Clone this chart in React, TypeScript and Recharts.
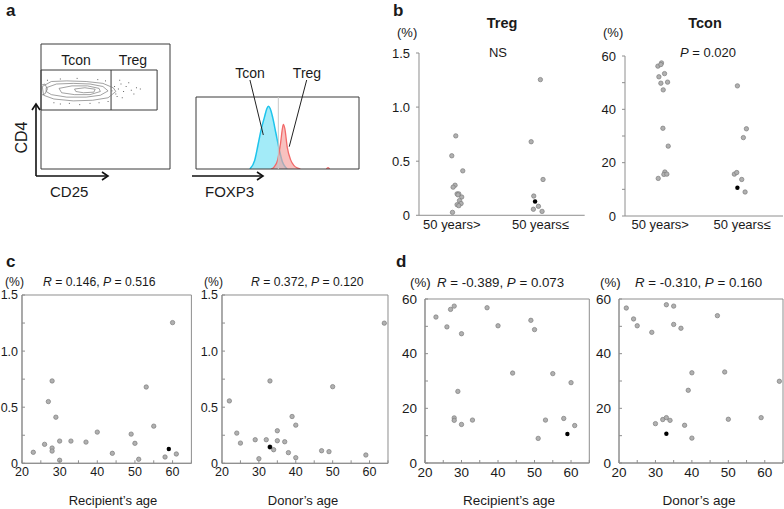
import React from "react";
import {
  ScatterChart,
  Scatter,
  XAxis,
  YAxis,
  ReferenceArea,
  ReferenceLine,
  AreaChart,
  Area,
} from "recharts";

const FONT = '"Liberation Sans", Arial, Helvetica, sans-serif';
const INK = "#1a1a1a";
const AXIS = "#8e8e8e";
const FRAME = "#3a3a3a";

// ---------- panel a ----------
// FOXP3 histograms, intensity 0-100 vs % of box height
const tconHistogram = [
  [33, 0], [36, 12], [38, 33], [40, 55], [42, 72], [43.5, 84], [44.4, 87],
  [45.5, 84], [47, 72], [49, 50], [51, 28], [53, 10], [55, 2], [56, 0],
];
const tregHistogram = [
  [46, 0], [48, 3], [50, 12], [52, 38], [53, 56], [53.6, 62], [54.5, 56],
  [56, 30], [58, 13], [60, 5], [62, 1.5], [64, 0], [70, null], [80, 0], [81, 2], [82, 0],
];
const foxp3Cutoff = 50.5;
// leader lines from the labels to the curves
const tconLeader = [[33.1, 123.6], [41.3, 47.2]];
const tregLeader = [[67.9, 123.6], [57.2, 31]];

// CD25 x CD4 plot, both axes 0-100
const gate = { left: 0, right: 90, bottom: 47.2, top: 79.2, split: 54.3 };
const contourRings = [
  [[1, 66], [8, 70], [20, 70.5], [35, 70], [48, 68.5], [56, 65], [58, 62], [52, 57], [40, 55], [25, 54.5], [10, 56], [2, 59], [1, 66]],
  [[4, 65], [12, 68], [25, 68.5], [38, 68], [48, 66], [52, 62.5], [46, 59], [35, 57.5], [20, 57.5], [8, 59.5], [4, 62], [4, 65]],
  [[14, 64.5], [24, 66.5], [36, 66.5], [45, 64.5], [46, 62], [38, 59.5], [26, 59.5], [16, 61], [14, 64.5]],
  [[26, 64], [34, 65], [42, 63.8], [41, 61.5], [33, 61], [27, 62], [26, 64]],
  [[0, 67], [3, 68], [5, 64], [3, 60], [0, 59]],
];
const eventDots = [
  [57, 66], [60, 64], [62, 68], [64, 62], [66, 66], [70, 63], [72, 60], [58, 60], [61, 71],
  [68, 69], [74, 65], [59, 58], [63, 57], [10, 53], [15, 52], [22, 52.5], [30, 51.5],
  [38, 52.5], [45, 53], [5, 71], [15, 72], [28, 72.5], [44, 71.5], [50, 70.5], [52, 54],
  [55, 62.5], [77, 64],
];

// ---------- panels b-d ----------
const groupLabels = ["50 years>", "50 years≤"];
const recipientAge = [23, 26, 27, 28, 28, 28, 29, 30, 30, 33, 37, 40, 44, 49, 50, 51, 53, 55, 58, 59, 60, 61];
const tregByRecipient = [0.098, 0.169, 0.55, 0.734, 0.136, 0.109, 0.411, 0.198, 0.027, 0.198, 0.189, 0.278, 0.089, 0.26, 0.178, 0.036, 0.68, 0.331, 0.056, 0.127, 1.254, 0.083];
const tconByRecipient = [53.4, 49.8, 56.2, 57.4, 16.5, 15.6, 26.2, 47.3, 14.1, 15.7, 56.8, 50.2, 32.9, 52.2, 48.8, 9.0, 15.7, 32.7, 16.3, 10.6, 29.4, 13.7];
const markedRecipient = 19;
const donorAge = [22, 24, 25, 29, 30, 32, 33, 33, 33, 34, 35, 35, 37, 38, 39, 40, 40, 47, 49, 50, 59, 64];
const tregByDonor = [0.556, 0.269, 0.18, 0.21, 0.041, 0.21, 0.734, 0.145, 0.145, 0.121, 0.29, 0.201, 0.192, 0.095, 0.417, 0.34, 0.05, 0.112, 0.104, 0.683, 0.074, 1.249];
const tconByDonor = [56.7, 52.7, 50.2, 47.8, 14.4, 15.9, 57.9, 16.6, 10.7, 15.6, 57.4, 50.7, 49.3, 13.8, 26.6, 33.0, 9.1, 53.9, 33.3, 16.0, 16.6, 29.9];
const markedDonor = 8;
// horizontal spread of the dots in panel b, in category units
const tregJitter = [0.06, 0.112, 0, 0.045, 0.087, 0.105, 0.124, 0.06, 0.008, 0.079, 0.07, 0.037, 0.079, 0.015, -0.075, 0.019, -0.104, 0.03, -0.079, -0.06, 0, -0.022];
const tconJitter = [0.053, 0.008, -0.028, 0.016, 0.057, 0.045, 0.098, 0.037, -0.024, 0.081, 0.008, 0.09, 0.033, -0.016, -0.057, 0.037, -0.094, 0.053, -0.065, -0.057, 0.016, -0.004];

const tregTicks = [0, 0.25, 0.5, 0.75, 1, 1.25, 1.5];
const tregMajorTicks = [0, 0.5, 1, 1.5];
const tconTicks = [0, 10, 20, 30, 40, 50, 60];
const ageTicks = [20, 25, 30, 35, 40, 45, 50, 55, 60, 65];
const groupTicks = [1, 2];

const groupStats = ["NS", "0.020"];
const correlationStats = [
  { r: "0.146", p: "0.516" },
  { r: "0.372", p: "0.120" },
  { r: "-0.389", p: "0.073" },
  { r: "-0.310", p: "0.160" },
];

type Pt = { x: number; y: number };

const toPts = (xs: number[], ys: number[]) => xs.map((x, i) => ({ x, y: ys[i] }));
const split = (pts: Pt[], mark: number) => ({
  gray: pts.filter((_, i) => i !== mark),
  black: [pts[mark]],
});
const byGroup = (ys: number[], jit: number[]) =>
  ys.map((y, i) => ({ x: (recipientAge[i] < 50 ? 1 : 2) + jit[i], y }));

const GrayDot = (p: any) => (
  <circle cx={p.cx} cy={p.cy} r={2.2} fill="#b0b0b0" stroke="#7c7c7c" strokeWidth={0.7} />
);
const BlackDot = (p: any) => <circle cx={p.cx} cy={p.cy} r={2.2} fill="#000" />;

const YW = 40;
const XH = 24;
const PADT = 8;
const PADR = 8;

type PanelProps = {
  box: number[];
  xDomain: number[];
  yDomain: number[];
  xTicks: number[];
  yTicks: number[];
  xText: (v: number) => string;
  yText: (v: number) => string;
  framed: boolean;
  yGap: number;
  fontSize: number;
  pts: Pt[];
  mark: number;
};

function ScatterPanel(p: PanelProps) {
  const [x0, y0, x1, y1] = p.box;
  const { gray, black } = split(p.pts, p.mark);
  const yTick = (t: any) => {
    const label = p.yText(t.payload.value);
    return (
      <g>
        <line x1={t.x} x2={p.framed ? t.x + 3 : t.x - 3} y1={t.y} y2={t.y} stroke={AXIS} />
        {label && (
          <text x={t.x - p.yGap} y={t.y} dy="0.355em" textAnchor="end" fontSize={p.fontSize} fontFamily={FONT} fill={INK}>
            {label}
          </text>
        )}
      </g>
    );
  };
  const xTick = (t: any) => {
    const label = p.xText(t.payload.value);
    return (
      <g>
        {p.framed && <line x1={t.x} x2={t.x} y1={t.y} y2={t.y - 3} stroke={AXIS} />}
        {label && (
          <text x={t.x} y={t.y + 4} dy="0.71em" textAnchor="middle" fontSize={p.fontSize} fontFamily={FONT} fill={INK}>
            {label}
          </text>
        )}
      </g>
    );
  };
  return (
    <div style={{ position: "absolute", left: x0 - YW, top: y0 - PADT }}>
      <ScatterChart
        width={x1 - x0 + YW + PADR}
        height={y1 - y0 + PADT + XH}
        margin={{ top: PADT, right: PADR, bottom: 0, left: 0 }}
      >
        <XAxis
          type="number"
          dataKey="x"
          domain={p.xDomain}
          ticks={p.xTicks}
          interval={0}
          allowDataOverflow
          height={XH}
          tickSize={0}
          tickMargin={0}
          tickLine={false}
          axisLine={{ stroke: AXIS }}
          tick={xTick}
        />
        <YAxis
          type="number"
          dataKey="y"
          domain={p.yDomain}
          ticks={p.yTicks}
          interval={0}
          allowDataOverflow
          width={YW}
          tickSize={0}
          tickMargin={0}
          tickLine={false}
          axisLine={{ stroke: AXIS }}
          tick={yTick}
        />
        {p.framed && (
          <ReferenceArea
            x1={p.xDomain[0]}
            x2={p.xDomain[1]}
            y1={p.yDomain[0]}
            y2={p.yDomain[1]}
            fill="none"
            fillOpacity={0}
            stroke={AXIS}
          />
        )}
        <Scatter data={gray} isAnimationActive={false} shape={GrayDot} />
        <Scatter data={black} isAnimationActive={false} shape={BlackDot} />
      </ScatterChart>
    </div>
  );
}

const tregFmt = (v: number) => (v % 0.5 === 0 ? (v === 0 ? "0" : v.toFixed(1)) : "");
const tconFmt = (v: number) => (v % 20 === 0 ? String(v) : "");
const ageFmt = (v: number) => (v % 10 === 0 ? String(v) : "");
const groupFmt = (v: number) => groupLabels[v - 1] ?? "";

const pairs = (a: any[]) => a.map(([x, y]) => ({ x, y }));

function Histograms() {
  // plot box 196..359 x 97..169
  const common = {
    width: 165,
    height: 103,
    margin: { top: 30, right: 1, bottom: 1, left: 1 },
  };
  const axes = [
    <XAxis key="x" type="number" dataKey="x" domain={[0, 100]} hide allowDataOverflow />,
    <YAxis key="y" type="number" domain={[0, 100]} hide allowDataOverflow />,
  ];
  return (
    <>
      <div style={{ position: "absolute", left: 195, top: 67 }}>
        <AreaChart {...common} data={pairs(tconHistogram)}>
          {axes}
          <Area
            type="monotone"
            dataKey="y"
            stroke="#1dc4ec"
            strokeWidth={1.5}
            fill="#a3ebf8"
            fillOpacity={1}
            isAnimationActive={false}
          />
        </AreaChart>
      </div>
      <div style={{ position: "absolute", left: 195, top: 67 }}>
        <AreaChart {...common} data={pairs(tregHistogram)}>
          {axes}
          <ReferenceLine x={foxp3Cutoff} stroke="#c8c8c8" />
          <Area
            type="monotone"
            dataKey="y"
            stroke="#f26a6a"
            strokeWidth={1.3}
            fill="#f4a09c"
            fillOpacity={0.65}
            isAnimationActive={false}
          />
          <ReferenceArea x1={0} x2={100} y1={0} y2={100} fill="none" fillOpacity={0} stroke={FRAME} />
          <ReferenceLine segment={pairs(tconLeader)} stroke="#222" ifOverflow="visible" />
          <ReferenceLine segment={pairs(tregLeader)} stroke="#222" ifOverflow="visible" />
        </AreaChart>
      </div>
    </>
  );
}

function Contour() {
  // plot box 41..170 x 44..169
  const empty = () => <g />;
  const dot = (p: any) => <rect x={p.cx - 0.5} y={p.cy - 0.5} width={1} height={1} fill="#666" />;
  return (
    <div style={{ position: "absolute", left: 40, top: 43 }}>
      <ScatterChart width={131} height={127} margin={{ top: 1, right: 1, bottom: 1, left: 1 }}>
        <XAxis type="number" dataKey="x" domain={[0, 100]} hide allowDataOverflow />
        <YAxis type="number" dataKey="y" domain={[0, 100]} hide allowDataOverflow />
        <ReferenceArea x1={0} x2={100} y1={0} y2={100} fill="none" fillOpacity={0} stroke={FRAME} />
        {contourRings.map((ring, i) => (
          <Scatter
            key={i}
            data={pairs(ring)}
            line={{ stroke: "#7a7a7a", strokeWidth: 0.7 }}
            lineType="joint"
            shape={empty}
            isAnimationActive={false}
          />
        ))}
        <Scatter data={pairs(eventDots)} shape={dot} isAnimationActive={false} />
        <ReferenceArea
          x1={gate.left}
          x2={gate.right}
          y1={gate.bottom}
          y2={gate.top}
          fill="none"
          fillOpacity={0}
          stroke={FRAME}
        />
        <ReferenceLine
          segment={[
            { x: gate.split, y: gate.bottom },
            { x: gate.split, y: gate.top },
          ]}
          stroke={FRAME}
        />
      </ScatterChart>
    </div>
  );
}

const T = (props: any) => {
  const { x, y, s = 13, w, a = "start", children, rot } = props;
  return (
    <text
      x={rot ? 0 : x}
      y={rot ? 0 : y}
      transform={rot ? `translate(${x},${y}) rotate(${rot})` : undefined}
      fontSize={s}
      fontWeight={w}
      textAnchor={a}
      fontFamily={FONT}
      fill={INK}
    >
      {children}
    </text>
  );
};

const Stat = ({ x, y, s, r, p }: any) => (
  <T x={x} y={y} s={s}>
    <tspan fontStyle="italic">R</tspan>
    {` = ${r}, `}
    <tspan fontStyle="italic">P</tspan>
    {` = ${p}`}
  </T>
);

export default function App() {
  const recipientPts = toPts(recipientAge, tregByRecipient);
  const recipientTcon = toPts(recipientAge, tconByRecipient);
  const donorPts = toPts(donorAge, tregByDonor);
  const donorTcon = toPts(donorAge, tconByDonor);

  return (
    <div
      style={{
        position: "absolute",
        left: 0,
        top: 0,
        width: 784,
        height: 509,
        overflow: "hidden",
        background: "#fff",
        fontFamily: FONT,
      }}
    >
      <Contour />
      <Histograms />

      <ScatterPanel
        box={[419.3, 52.7, 585, 215]}
        xDomain={[0.63, 2.5]}
        yDomain={[0, 1.5]}
        xTicks={groupTicks}
        yTicks={tregMajorTicks}
        xText={groupFmt}
        yText={tregFmt}
        framed={false}
        yGap={9}
        fontSize={13}
        pts={byGroup(tregByRecipient, tregJitter)}
        mark={markedRecipient}
      />
      <ScatterPanel
        box={[625, 56, 783, 216]}
        xDomain={[0.57, 2.5]}
        yDomain={[0, 60]}
        xTicks={groupTicks}
        yTicks={tconTicks}
        xText={groupFmt}
        yText={tconFmt}
        framed={false}
        yGap={9}
        fontSize={13}
        pts={byGroup(tconByRecipient, tconJitter)}
        mark={markedRecipient}
      />

      <ScatterPanel
        box={[22.3, 295, 191.7, 463.3]}
        xDomain={[20, 65]}
        yDomain={[0, 1.5]}
        xTicks={ageTicks}
        yTicks={tregTicks}
        xText={ageFmt}
        yText={tregFmt}
        framed
        yGap={4}
        fontSize={12.5}
        pts={recipientPts}
        mark={markedRecipient}
      />
      <ScatterPanel
        box={[222.3, 295, 388.3, 463.3]}
        xDomain={[20, 65]}
        yDomain={[0, 1.5]}
        xTicks={ageTicks}
        yTicks={tregTicks}
        xText={ageFmt}
        yText={tregFmt}
        framed
        yGap={4}
        fontSize={12.5}
        pts={donorPts}
        mark={markedDonor}
      />
      <ScatterPanel
        box={[425, 299.3, 589.3, 463.3]}
        xDomain={[20, 65]}
        yDomain={[0, 60]}
        xTicks={ageTicks}
        yTicks={tconTicks}
        xText={ageFmt}
        yText={tconFmt}
        framed
        yGap={8}
        fontSize={13.5}
        pts={recipientTcon}
        mark={markedRecipient}
      />
      <ScatterPanel
        box={[619.3, 299.3, 783.3, 463.3]}
        xDomain={[20, 65]}
        yDomain={[0, 60]}
        xTicks={ageTicks}
        yTicks={tconTicks}
        xText={ageFmt}
        yText={tconFmt}
        framed
        yGap={8}
        fontSize={13.5}
        pts={donorTcon}
        mark={markedDonor}
      />

      <svg
        width={784}
        height={509}
        style={{ position: "absolute", left: 0, top: 0, pointerEvents: "none" }}
      >
        {/* panel letters */}
        <T x={6} y={16} s={17} w="bold">a</T>
        <T x={393} y={16} s={17} w="bold">b</T>
        <T x={6} y={267} s={17} w="bold">c</T>
        <T x={396} y={267} s={17} w="bold">d</T>

        {/* panel a */}
        <T x={76} y={65} s={14} a="middle">Tcon</T>
        <T x={133} y={65} s={14} a="middle">Treg</T>
        <T x={250} y={78} s={14} a="middle">Tcon</T>
        <T x={307} y={78} s={14} a="middle">Treg</T>
        <T x={26.5} y={137.5} s={16} a="middle" rot={-90}>CD4</T>
        <T x={50} y={196.5} s={15}>CD25</T>
        <T x={205} y={196.5} s={15}>FOXP3</T>
        <g stroke="#111" strokeWidth={1.6} fill="none">
          <line x1={36} y1={176} x2={36} y2={104} />
          <polyline points="32,110 36,104 40,110" />
          <line x1={36} y1={176} x2={108} y2={176} />
          <polyline points="102,172 108,176 102,180" />
          <line x1={192} y1={176} x2={263} y2={176} />
          <polyline points="257,172 263,176 257,180" />
        </g>

        {/* panel b */}
        <T x={502} y={28} s={14.5} w="bold" a="middle">Treg</T>
        <T x={705} y={28} s={14.5} w="bold" a="middle">Tcon</T>
        <T x={397} y={37} s={13}>(%)</T>
        <T x={603} y={37} s={13}>(%)</T>
        <T x={498} y={57} s={13} a="middle">{groupStats[0]}</T>
        <T x={708} y={57} s={13} a="middle">
          <tspan fontStyle="italic">P</tspan>
          {` = ${groupStats[1]}`}
        </T>

        {/* panels c, d headers */}
        <T x={5} y={286} s={12.2}>(%)</T>
        <Stat x={43} y={286} s={12.2} {...correlationStats[0]} />
        <T x={204} y={286} s={12.2}>(%)</T>
        <Stat x={251} y={286} s={12.2} {...correlationStats[1]} />
        <T x={410} y={287} s={13.3}>(%)</T>
        <Stat x={437} y={287} s={13.3} {...correlationStats[2]} />
        <T x={600} y={287} s={13.3}>(%)</T>
        <Stat x={635} y={287} s={13.3} {...correlationStats[3]} />

        {/* axis titles */}
        <T x={113} y={505} s={13} a="middle">Recipient’s age</T>
        <T x={303} y={505} s={13} a="middle">Donor’s age</T>
        <T x={509} y={505} s={13.5} a="middle">Recipient’s age</T>
        <T x={699} y={505} s={13.5} a="middle">Donor’s age</T>
      </svg>
    </div>
  );
}
